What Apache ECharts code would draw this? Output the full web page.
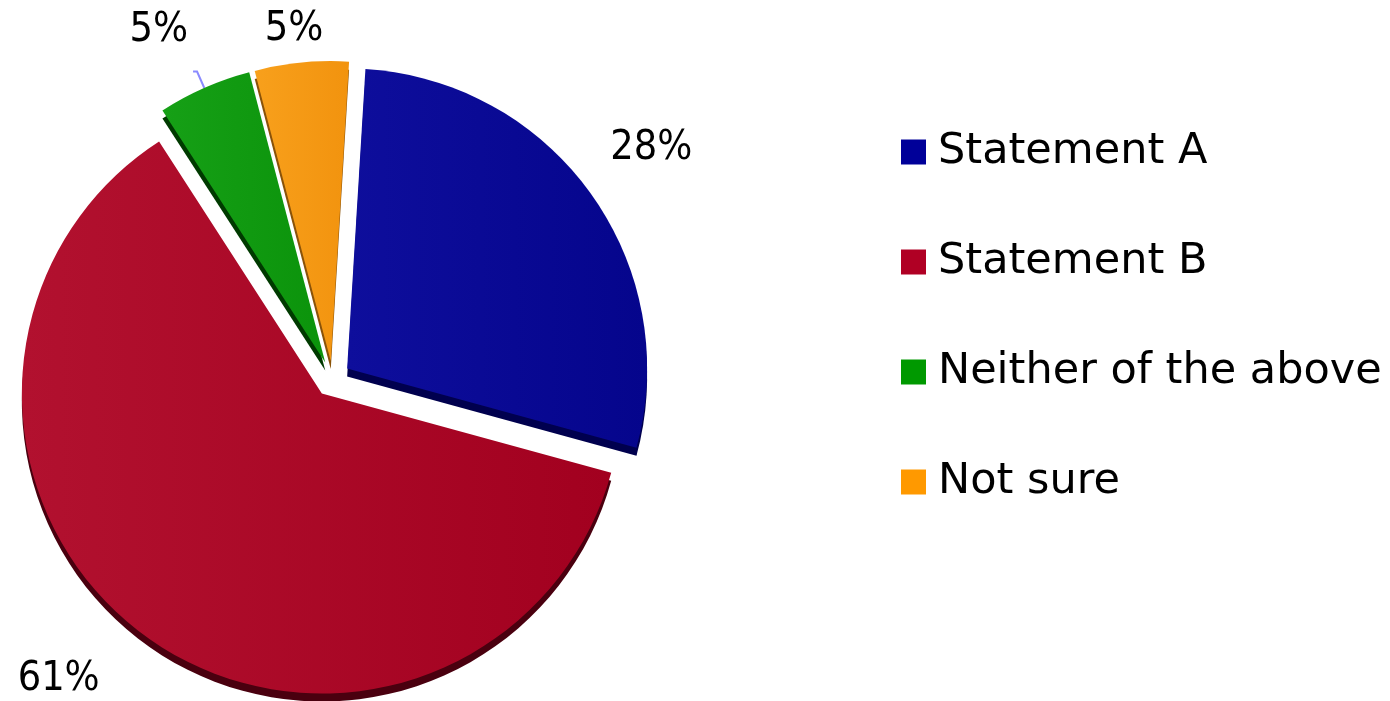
<!DOCTYPE html>
<html><head><meta charset="utf-8">
<script src="https://cdn.jsdelivr.net/npm/echarts@6/dist/echarts.min.js"></script>
<style>html,body{margin:0;padding:0;background:#fff}#c{width:1390px;height:701px}</style>
</head><body><div id="c"></div>
<script>
// ---- data ----
const categories = ['Statement A', 'Statement B', 'Neither of the above', 'Not sure'];
const values = [28, 61, 5, 5];
const labelTexts = ['28%', '61%', '5%', '5%'];

// ---- styles (kept separate from data) ----
const topColors = [['#0e0e9c', '#05058c'], ['#b2112f', '#a2001f'], ['#16a016', '#0b930b'], ['#f8a01c', '#f2930e']];
const sideColors = ['#00004e', '#4a000f', '#003a00', '#8a5208'];
const legendColors = ['#000099', '#b00024', '#009900', '#ff9900'];
const labelLineLen = [79, 54, 18, 33];
const labelLineLen2 = [0, 0, 4, 0];
const labelDist = [-45, 13, 5, -25];

const CENTER = [332.5, 379];
const DEPTH = 8;
const RADIUS = 300;
const OFFSET = 18;
const START = 86.5;

function grad(c) {
  return { type: 'linear', x: 0, y: 0, x2: 1, y2: 0, colorStops: [{ offset: 0, color: c[0] }, { offset: 1, color: c[1] }] };
}

const topData = categories.map((name, i) => ({
  name, value: values[i], selected: true,
  itemStyle: { color: grad(topColors[i]) },
  label: {
    distanceToLabelLine: labelDist[i],
    lineHeight: i === 2 ? 83 : 50
  },
  labelLine: {
    show: i === 2, length: labelLineLen[i], length2: labelLineLen2[i],
    lineStyle: { color: '#8a8aff', width: 2 }
  }
}));
const sideData = categories.map((name, i) => ({
  name, value: values[i], selected: true,
  itemStyle: { color: sideColors[i] }
}));

const chart = echarts.init(document.getElementById('c'), null, { renderer: 'canvas' });
chart.setOption({
  animation: false,
  backgroundColor: '#ffffff',
  legend: {
    orient: 'vertical',
    left: 901, top: 124, padding: 0,
    itemWidth: 25, itemHeight: 25, itemGap: 54,
    icon: 'rect',
    selectedMode: false,
    textStyle: { fontFamily: 'DejaVu Sans', fontSize: 43, color: '#000', lineHeight: 50, padding: [6, 0, 0, 7] },
    data: categories.map((name, i) => ({ name, itemStyle: { color: legendColors[i] } }))
  },
  series: [
    {
      type: 'pie', name: 'depth', silent: true, z: 1,
      center: [CENTER[0], CENTER[1] + DEPTH], radius: RADIUS,
      startAngle: START, clockwise: true,
      selectedMode: 'multiple', selectedOffset: OFFSET,
      label: { show: false }, labelLine: { show: false },
      emphasis: { disabled: true },
      data: sideData
    },
    {
      type: 'pie', name: 'top', silent: true, z: 2,
      center: CENTER, radius: RADIUS,
      startAngle: START, clockwise: true,
      selectedMode: 'multiple', selectedOffset: OFFSET,
      avoidLabelOverlap: false,
      emphasis: { disabled: true },
      label: {
        show: true, position: 'outside',
        formatter: p => labelTexts[p.dataIndex] + (p.dataIndex === 2 ? '\n ' : ''),
        fontFamily: 'DejaVu Sans Condensed, DejaVu Sans, sans-serif',
        fontSize: 41, color: '#000'
      },
      data: topData
    }
  ]
});
</script></body></html>
